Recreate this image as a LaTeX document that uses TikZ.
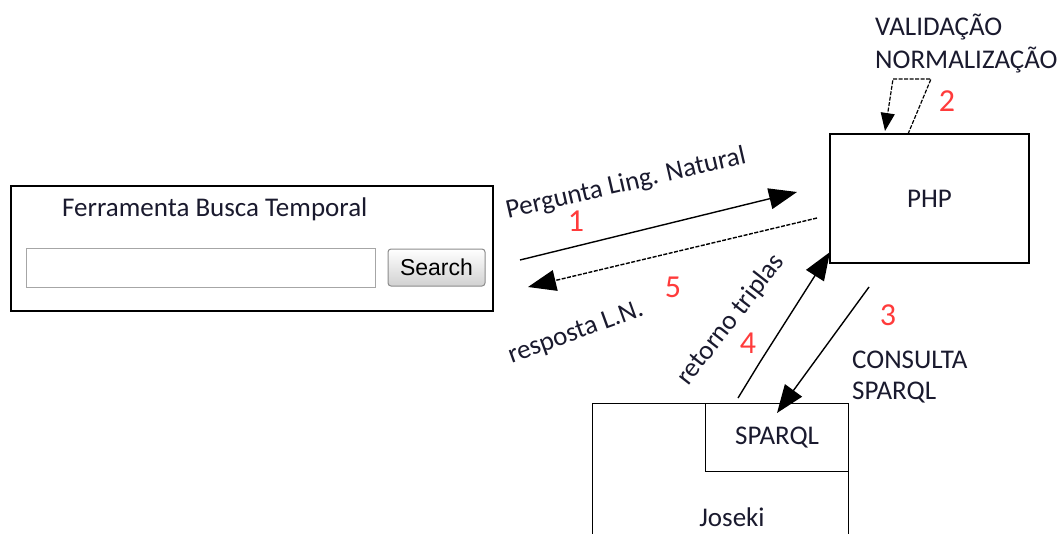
\documentclass[tikz,border=0pt]{standalone}
\usepackage{fontspec}
\setmainfont{Carlito}
\newfontfamily\arialfont{Liberation Sans}
\usetikzlibrary{arrows.meta}
\definecolor{txt}{HTML}{1A1A2E}
\definecolor{numred}{HTML}{FF3B3B}
\tikzset{
  lbl/.style={text=txt, font=\fontsize{27}{30}\selectfont, inner sep=0pt},
  num/.style={text=numred, font=\fontsize{32}{36}\selectfont, inner sep=0pt},
  box/.style={draw=black, line width=1.2pt, inner sep=0pt},
  conn/.style={line width=1.4pt, -{Triangle[length=28pt,width=21pt]}},
  dconn/.style={conn, dash pattern=on 4pt off 1.5pt},
}
\begin{document}
\begin{tikzpicture}[x=1pt,y=-1pt]
\clip (0,0) rectangle (1059,533);
\fill[white] (0,0) rectangle (1059,533);

% left tool box
\node[box, minimum width=482pt, minimum height=125pt] (tool) at (252,248.5) {};
\node[lbl, anchor=west] (title) at (62,209) {Ferramenta Busca Temporal};
\node[draw=black!35, line width=1pt, minimum width=349pt, minimum height=39pt, inner sep=0pt] (field) at (200.5,267.5) {};
\node[draw=black!45, line width=1pt, rounded corners=3pt, top color=white, bottom color=black!18,
      minimum width=97pt, minimum height=37pt, inner sep=0pt,
      font=\arialfont\fontsize{23}{26}\selectfont, text=black] (search) at (436.5,267.5) {Search};

% PHP box
\node[box, minimum width=199pt, minimum height=129pt, lbl] (php) at (929.5,198.5) {PHP};

% Joseki and SPARQL boxes
\node[box, minimum width=256pt, minimum height=160pt, anchor=north west] (joseki) at (592,403) {};
\node[lbl] (josekitxt) at (732,517) {Joseki};
\node[box, minimum width=143pt, minimum height=68pt, anchor=north west, lbl] (sparql) at (705,403) {SPARQL};

% labels
\node[lbl, anchor=west] (valid) at (875,27) {VALIDAÇÃO};
\node[lbl, anchor=west] (norm) at (875,60) {NORMALIZAÇÃO};
\node[lbl, anchor=west] (consulta) at (852,360) {CONSULTA};
\node[lbl, anchor=west] (sparqltxt) at (852,393) {SPARQL};
\node[lbl, rotate=13] (pergunta) at (626,184) {Pergunta Ling. Natural};
\node[lbl, rotate=20] (resposta) at (576,333) {resposta L.N.};
\node[lbl, rotate=52] (retorno) at (731,320) {retorno triplas};

% numbers
\node[num] (n1) at (576,221) {1};
\node[num] (n2) at (947,101) {2};
\node[num] (n3) at (888,315) {3};
\node[num] (n4) at (748,343) {4};
\node[num] (n5) at (673,287) {5};

% connector end points
\coordinate (a1s) at (520,260);
\coordinate (a1e) at (797,192);
\coordinate (a5s) at (817,218);
\coordinate (a5e) at (528,287);
\coordinate (a4s) at (738,398);
\coordinate (a4m) at (760,362);
\coordinate (a4e) at (830,252);
\coordinate (a3s) at (869,287);
\coordinate (a3e) at (777,413);
\coordinate (l1) at (908,134);
\coordinate (l2) at (931,79);
\coordinate (l3) at (893,79);
\coordinate (l4) at (885,131);

% connectors
\draw[conn] (a1s) -- (a1e);
\draw[dconn] (a5s) -- (a5e);
\draw[conn] (a4s) -- (a4m) -- (a4e);
\draw[conn] (a3s) -- (a3e);
\draw[line width=1.2pt, dash pattern=on 4pt off 1.5pt, -{Triangle[length=18pt,width=14pt]}]
  (l1) -- (l2) -- (l3) -- (l4);
\end{tikzpicture}
\end{document}
